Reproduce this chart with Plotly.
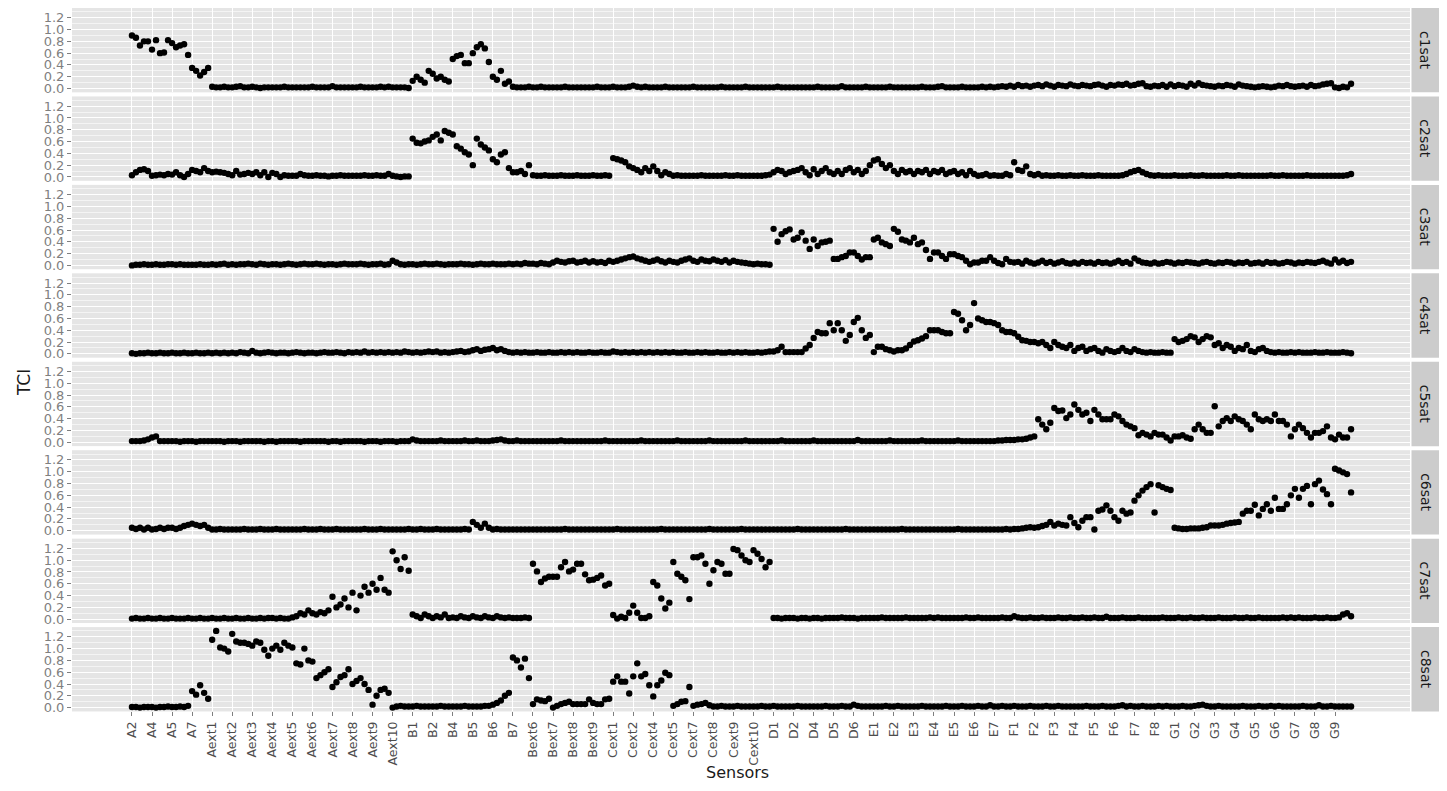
import numpy as np
import plotly.graph_objects as go

# ---------------- data (TCI values in hundredths, 5 readings per labelled sensor step) -------------
sensor_labels = ["A2", "A4", "A5", "A7", "Aext1", "Aext2", "Aext3", "Aext4", "Aext5", "Aext6",
                 "Aext7", "Aext8", "Aext9", "Aext10", "B1", "B2", "B4", "B5", "B6", "B7",
                 "Bext6", "Bext7", "Bext8", "Bext9", "Cext1", "Cext2", "Cext4", "Cext5", "Cext7",
                 "Cext8", "Cext9", "Cext10", "D1", "D2", "D4", "D5", "D6", "E1", "E2", "E3", "E4",
                 "E5", "E6", "E7", "F1", "F2", "F3", "F4", "F5", "F6", "F7", "F8", "G1", "G2", "G3",
                 "G4", "G5", "G6", "G7", "G8", "G9"]
facet_names = ["c1sat", "c2sat", "c3sat", "c4sat", "c5sat", "c6sat", "c7sat", "c8sat"]
readings_per_label = 5

c1sat = [90,86,73,80,80, 66,82,60,61,82, 77,70,73,75,57, 35,30,22,28,35, 3,2,2,3,2,
         2,3,4,2,2, 3,2,1,2,2, 2,2,2,3,2, 2,2,2,2,2, 3,2,2,2,2,
         4,2,2,2,2, 2,2,3,2,2, 2,2,3,2,3, 2,2,2,2,1, 13,20,15,10,30,
         25,17,20,15,12, 50,55,57,43,43, 60,70,75,68,45, 20,15,30,8,12, 3,2,2,2,3,
         2,2,3,2,2, 2,2,2,3,2, 2,2,2,2,2, 2,3,2,2,2, 3,2,2,2,3,
         5,3,2,3,2, 2,2,2,3,2, 2,2,2,2,2, 3,2,2,2,2, 2,2,3,2,2,
         2,2,2,3,2, 2,2,2,2,2, 2,3,2,2,2, 2,2,2,2,2, 2,3,2,2,2,
         2,2,4,2,2, 2,2,2,3,2, 2,2,2,2,3, 2,2,2,2,2, 2,2,3,2,2,
         2,3,4,2,2, 2,2,3,2,2, 2,2,3,2,3, 2,3,4,3,5, 3,6,4,5,3,
         5,6,4,7,5, 3,6,5,4,7, 5,4,6,5,4, 6,7,5,3,6, 5,7,6,8,5,
         6,8,9,4,3, 5,4,6,3,7, 4,6,5,3,8, 5,9,6,5,4, 3,5,4,6,5,
         3,7,5,4,3, 2,3,4,3,2, 3,5,4,6,4, 3,4,5,3,6, 4,5,7,8,9,
         2,1,3,2,8]

c2sat = [3,8,12,13,10, 2,3,4,3,5, 4,8,3,0,5, 12,10,8,15,10, 8,9,8,7,5,
         3,10,4,5,7, 5,8,3,8,0, 7,5,0,3,2, 2,2,5,3,2, 2,3,2,2,1,
         2,2,3,2,2, 2,2,2,3,2, 2,3,2,2,5, 2,1,0,1,1, 65,58,57,60,62,
         68,72,62,78,75, 72,52,48,42,38, 20,65,55,50,45, 30,25,38,42,15, 8,8,10,5,20,
         3,2,2,3,2, 2,2,3,2,2, 2,3,2,2,2, 3,2,2,3,2, 32,30,28,25,18,
         15,12,8,15,10, 18,10,3,8,5, 2,3,2,2,2, 2,2,3,2,2, 2,2,2,3,2,
         2,3,2,2,2, 2,2,2,3,4, 8,12,10,5,8, 10,12,15,8,3, 13,5,10,15,8,
         5,10,5,12,15, 8,12,5,10,20, 28,30,22,15,20, 10,5,12,8,10, 5,10,8,12,5,
         10,8,12,5,8, 10,5,8,3,10, 5,2,3,5,2, 3,2,2,5,3, 25,12,10,18,5,
         3,5,2,3,2, 2,3,2,2,3, 2,2,3,2,2, 2,3,2,2,2, 2,2,3,5,8,
         10,12,8,5,3, 2,3,2,2,2, 3,2,2,2,3, 2,2,3,2,2, 2,2,2,3,2,
         2,3,2,2,2, 2,2,2,2,3, 2,2,3,2,2, 2,2,2,3,2, 2,2,2,2,2,
         2,2,2,3,5]

c3sat = [0,1,1,2,1, 1,2,1,1,2, 2,1,2,1,1, 1,1,2,1,1, 2,1,2,3,1,
         2,1,2,2,3, 2,1,3,2,1, 2,2,1,2,3, 2,1,2,3,2, 2,3,2,1,2,
         2,1,2,3,2, 2,2,3,2,1, 2,2,3,1,2, 8,5,2,1,2, 2,1,2,3,2,
         2,3,2,1,2, 2,2,3,2,2, 1,2,3,2,2, 3,2,2,2,3, 2,3,2,4,3,
         3,2,4,3,2, 5,8,6,5,7, 8,5,6,8,5, 7,5,6,4,8, 6,8,10,12,14,
         15,12,10,8,6, 8,10,7,5,8, 6,5,8,10,12, 8,6,10,8,7, 10,8,6,9,5,
         8,6,5,4,3, 2,3,2,2,1, 62,40,53,58,61, 44,47,56,42,28, 44,33,39,40,42,
         11,11,14,16,22, 22,16,10,14,14, 44,47,39,36,33, 62,57,44,42,39, 47,36,39,26,11,
         22,22,16,11,19, 19,16,14,8,2, 5,5,8,8,14, 8,4,2,11,6, 5,6,3,8,5,
         3,5,8,4,6, 3,5,7,4,3, 5,3,6,4,5, 3,6,4,5,3, 5,8,4,6,3,
         12,8,5,4,3, 5,3,4,6,5, 3,5,4,6,5, 4,3,5,6,4, 3,5,4,6,5,
         3,5,4,6,3, 4,5,3,6,4, 5,3,4,6,5, 3,5,4,6,5, 4,6,8,5,3,
         10,5,8,4,6]

c4sat = [1,0,1,1,2, 1,1,2,1,1, 2,1,1,2,1, 1,2,1,1,2, 1,2,1,2,1,
         2,1,3,2,1, 5,2,1,2,3, 2,1,2,2,1, 2,3,2,1,2, 2,1,2,3,2,
         2,3,2,1,3, 2,3,2,4,2, 3,2,3,2,3, 2,3,2,4,3, 2,3,2,3,4,
         3,4,2,3,2, 3,4,5,3,4, 6,8,5,7,8, 10,6,8,5,3, 2,3,2,3,2,
         2,3,2,2,3, 2,2,3,2,3, 2,3,2,2,3, 2,2,3,2,2, 4,3,2,3,2,
         3,2,3,2,3, 2,3,2,3,2, 3,2,2,3,2, 2,3,2,3,2, 2,3,2,2,3,
         2,3,2,3,2, 2,3,2,3,4, 4,6,12,3,3, 3,3,3,9,15, 27,37,35,35,52,
         40,52,40,22,32, 54,61,40,27,32, 3,12,12,8,6, 4,6,6,9,15, 21,23,26,30,40,
         40,40,37,35,35, 71,68,57,40,49, 86,60,57,54,54, 52,49,40,37,37, 35,29,23,22,20,
         20,18,20,15,10, 20,15,12,10,15, 5,10,12,5,8, 10,5,2,8,5, 3,5,10,5,3,
         8,5,3,2,3, 2,2,3,2,2, 25,20,22,25,30, 28,20,25,30,28, 15,18,10,15,12,
         5,10,8,15,5, 3,8,10,5,3, 2,3,2,2,3, 2,3,2,2,2, 3,2,2,3,2,
         2,2,3,2,1]

c5sat = [2,2,2,3,5, 8,10,2,2,2, 2,2,1,2,2, 2,1,2,2,2, 2,2,2,1,2,
         2,2,1,2,2, 2,2,2,1,2, 2,1,2,2,2, 2,2,1,2,2, 2,2,2,2,1,
         2,2,1,2,2, 2,2,2,1,2, 2,2,1,2,2, 2,1,2,2,2, 5,3,2,2,2,
         2,2,3,2,2, 2,2,2,3,2, 2,3,2,2,2, 3,4,5,3,2, 2,3,2,2,2,
         2,2,2,2,2, 2,2,3,2,2, 2,2,2,2,2, 2,2,2,3,2, 2,2,2,2,2,
         2,2,3,2,2, 2,2,2,2,2, 2,3,2,2,2, 2,2,2,2,3, 2,2,2,2,2,
         2,2,2,3,2, 2,2,2,2,2, 2,2,3,2,2, 2,2,2,2,2, 3,2,2,2,2,
         2,2,2,2,2, 2,4,2,2,2, 2,2,2,2,3, 2,2,2,2,2, 2,2,3,2,2,
         2,2,2,2,2, 2,3,2,2,2, 2,2,2,2,2, 2,3,3,4,4, 4,5,5,6,8,
         10,39,30,22,33, 58,53,54,41,47, 64,55,47,50,36, 55,47,39,39,39, 47,44,36,30,27,
         24,12,16,13,10, 16,13,13,8,3, 10,10,12,8,6, 22,30,22,16,16, 61,27,36,41,36,
         44,39,36,30,22, 47,39,36,39,36, 47,36,36,30,10, 22,30,24,16,8, 16,16,19,27,8,
         5,13,8,8,22]

c6sat = [5,3,5,2,5, 2,3,5,3,5, 5,3,5,8,10, 12,10,8,10,5, 2,2,3,2,2,
         2,2,2,3,2, 2,2,3,2,2, 2,3,2,2,2, 2,2,2,3,2, 2,2,3,2,2,
         2,3,2,2,2, 2,2,2,3,2, 2,2,3,2,2, 2,2,2,2,3, 2,2,3,2,2,
         2,3,2,2,2, 2,2,2,3,2, 15,10,5,12,5, 2,3,2,2,2, 2,2,2,2,2,
         2,2,2,2,2, 2,2,2,3,2, 2,2,2,2,2, 2,2,2,2,2, 2,3,2,2,2,
         2,2,2,2,2, 2,2,3,2,2, 2,2,2,2,2, 2,2,2,2,3, 2,2,2,2,2,
         2,2,3,2,2, 2,2,2,2,2, 2,2,2,2,2, 2,3,2,2,2, 2,2,2,2,2,
         2,2,2,3,2, 2,2,2,2,2, 2,2,2,2,2, 2,2,3,2,2, 2,2,2,2,2,
         2,2,2,2,2, 2,3,2,2,2, 2,2,2,2,2, 2,2,2,3,2, 3,3,4,5,6,
         5,6,8,10,15, 9,12,10,9,23, 13,6,17,23,23, 2,34,36,43,34, 23,17,34,29,31,
         51,60,68,74,79, 31,77,74,71,69, 5,4,3,3,4, 4,4,5,6,9, 9,9,10,12,13,
         14,15,29,34,34, 44,26,37,45,34, 56,37,37,45,60, 71,56,71,76,45, 79,85,70,62,45,
         105,102,99,96,65]

c7sat = [1,2,1,1,2, 1,1,2,1,1, 2,1,1,1,2, 1,1,2,1,1, 2,1,1,2,1,
         1,2,1,1,2, 1,1,2,1,2, 2,1,2,1,1, 3,5,10,8,15, 10,8,12,10,15,
         38,20,25,35,20, 45,15,40,55,45, 60,50,70,50,45, 115,100,85,105,82, 8,5,2,8,5,
         2,5,3,8,2, 3,2,5,3,2, 5,3,2,5,3, 2,5,3,2,3, 2,2,2,3,2,
         94,81,63,69,72, 72,72,88,97,81, 84,94,94,76,66, 67,70,74,57,60, 7,1,4,2,11,
         23,11,2,2,5, 63,57,35,18,28, 97,77,72,66,34, 105,105,108,94,60, 83,97,94,77,77,
         119,117,108,100,97, 117,111,102,88,97, 2,2,1,2,2, 2,1,2,2,1, 2,2,1,2,2,
         2,2,3,2,2, 2,1,2,2,2, 2,2,3,2,2, 2,2,2,3,2, 2,2,2,2,3,
         2,3,2,2,2, 2,2,2,3,2, 2,3,2,2,2, 2,2,3,2,2, 5,3,2,2,3,
         2,2,3,2,2, 2,3,2,2,3, 2,2,3,2,2, 3,2,2,4,2, 2,2,3,2,2,
         2,3,2,2,2, 2,2,3,2,2, 2,3,2,2,3, 2,2,3,2,2, 2,3,2,2,2,
         3,2,2,3,2, 2,3,2,2,2, 2,2,3,2,3, 2,3,2,2,2, 3,2,2,3,2,
         2,3,8,10,5]

c8sat = [1,1,0,1,1, 1,0,1,1,2, 1,1,2,1,3, 28,22,38,25,15, 115,130,102,100,95,
         125,112,110,110,108, 105,112,110,98,88, 100,105,98,110,105, 102,75,73,100,80, 78,50,55,60,65,
         35,43,52,55,65, 40,45,50,40,30, 5,20,30,32,25, 0,2,3,2,2, 2,3,2,2,2,
         2,2,3,2,2, 2,2,2,3,2, 2,2,2,3,3, 5,8,12,20,25, 85,80,68,83,50,
         6,14,12,11,15, 0,3,6,8,10, 6,6,6,6,14, 8,6,6,14,15, 44,53,44,44,24,
         53,75,53,57,38, 19,38,46,59,55, 3,6,10,11,35, 3,5,6,8,4, 2,2,3,2,2,
         2,3,2,2,2, 2,2,3,2,2, 3,2,2,2,2, 2,3,2,2,2, 2,2,2,3,2,
         2,2,3,2,2, 5,3,2,2,2, 2,2,2,3,2, 2,3,2,2,2, 2,2,3,2,2,
         2,2,2,3,2, 2,2,3,2,2, 2,3,2,2,4, 2,2,3,2,2, 3,2,2,2,3,
         2,2,2,3,2, 2,3,2,2,2, 2,2,2,3,2, 2,2,3,2,2, 2,3,4,2,3,
         2,2,3,2,2, 2,3,2,3,2, 2,2,3,2,2, 3,4,5,3,2, 2,3,2,2,2,
         2,2,3,2,2, 2,3,2,2,3, 2,3,2,2,2, 2,2,3,2,2, 2,4,2,2,3,
         2,2,2,2,2]

series = [c1sat, c2sat, c3sat, c4sat, c5sat, c6sat, c7sat, c8sat]

# ---------------- layout geometry (screen pixels; page body adds an 8px margin) ----------------
OFF = 8
SW, SH = 1447, 791
W, H = SW - 2 * OFF, SH - 2 * OFF


def fx(px):
    return min(1.0, max(0.0, (px - OFF) / W))


def fy(py):
    return min(1.0, max(0.0, (H - (py - OFF)) / H))


px_left, px_right = 72, 1410
panel_top0, panel_h, panel_pitch = 8.0, 84.8, 88.9
strip_l, strip_r = 1411.5, 1439
y_range = [-0.065, 1.365]
x_range = [-2.99, 63.74]

fig = go.Figure()
n_lab = len(sensor_labels)
tick_pos = list(range(n_lab))
y_major = [0.0, 0.2, 0.4, 0.6, 0.8, 1.0, 1.2]
y_minor = [0.1, 0.3, 0.5, 0.7, 0.9, 1.1, 1.3]

shapes = []
annotations = []
for p, (name, vals) in enumerate(zip(facet_names, series)):
    idx = "" if p == 0 else str(p + 1)
    v = np.array(vals, dtype=float) / 100.0
    x = np.arange(len(v)) / readings_per_label
    fig.add_trace(go.Scatter(x=x, y=v, mode="markers", xaxis="x" + idx, yaxis="y" + idx,
                             marker=dict(color="black", size=6.4, line=dict(width=0)),
                             showlegend=False, hoverinfo="skip"))
    top = panel_top0 + p * panel_pitch
    bot = top + panel_h
    dom = [fy(bot), fy(top)]
    last = (p == len(facet_names) - 1)
    fig.layout["xaxis" + idx] = dict(
        domain=[fx(px_left), fx(px_right)], range=x_range, anchor="y" + idx,
        tickmode="array", tickvals=tick_pos, ticktext=sensor_labels,
        showticklabels=last, ticks="outside" if last else "", ticklen=4, tickwidth=1,
        tickcolor="#7f7f7f", tickangle=-90,
        tickfont=dict(family="DejaVu Sans", size=12.5, color="#4d4d4d"),
        showgrid=True, gridcolor="white", gridwidth=1.4, zeroline=False, showline=False,
        fixedrange=True)
    fig.layout["yaxis" + idx] = dict(
        domain=dom, range=y_range, anchor="x" + idx,
        tickmode="array", tickvals=y_major, ticktext=[f"{t:.1f}" for t in y_major],
        ticks="outside", ticklen=4, tickwidth=1, tickcolor="#7f7f7f",
        tickfont=dict(family="DejaVu Sans", size=13, color="#7f7f7f"),
        showgrid=True, gridcolor="white", gridwidth=1.4, zeroline=False, showline=False,
        minor=dict(tickmode="array", tickvals=y_minor, showgrid=True, gridcolor="#f4f4f4",
                   gridwidth=0.8, ticks=""),
        fixedrange=True)
    shapes.append(dict(type="rect", xref="paper", yref="paper", layer="below",
                       x0=fx(strip_l), x1=fx(strip_r), y0=dom[0], y1=dom[1],
                       fillcolor="#cccccc", line=dict(width=0)))
    annotations.append(dict(text=name, xref="paper", yref="paper", showarrow=False,
                            x=fx((strip_l + strip_r) / 2), y=(dom[0] + dom[1]) / 2,
                            textangle=90, font=dict(family="DejaVu Sans", size=14, color="#1a1a1a"),
                            xanchor="center", yanchor="middle"))

annotations.append(dict(text="Sensors", xref="paper", yref="paper", showarrow=False,
                        x=fx(737), y=fy(776), xanchor="center", yanchor="middle",
                        font=dict(family="DejaVu Sans", size=16, color="#1a1a1a")))
annotations.append(dict(text="TCI", xref="paper", yref="paper", showarrow=False,
                        x=fx(24), y=fy(385), xanchor="center", yanchor="middle",
                        textangle=-90, font=dict(family="DejaVu Sans", size=17, color="#1a1a1a")))

fig.update_layout(width=W, height=H, margin=dict(l=0, r=0, t=0, b=0),
                  paper_bgcolor="white", plot_bgcolor="#e5e5e5",
                  shapes=shapes, annotations=annotations, showlegend=False)

fig.write_html("out.html")
